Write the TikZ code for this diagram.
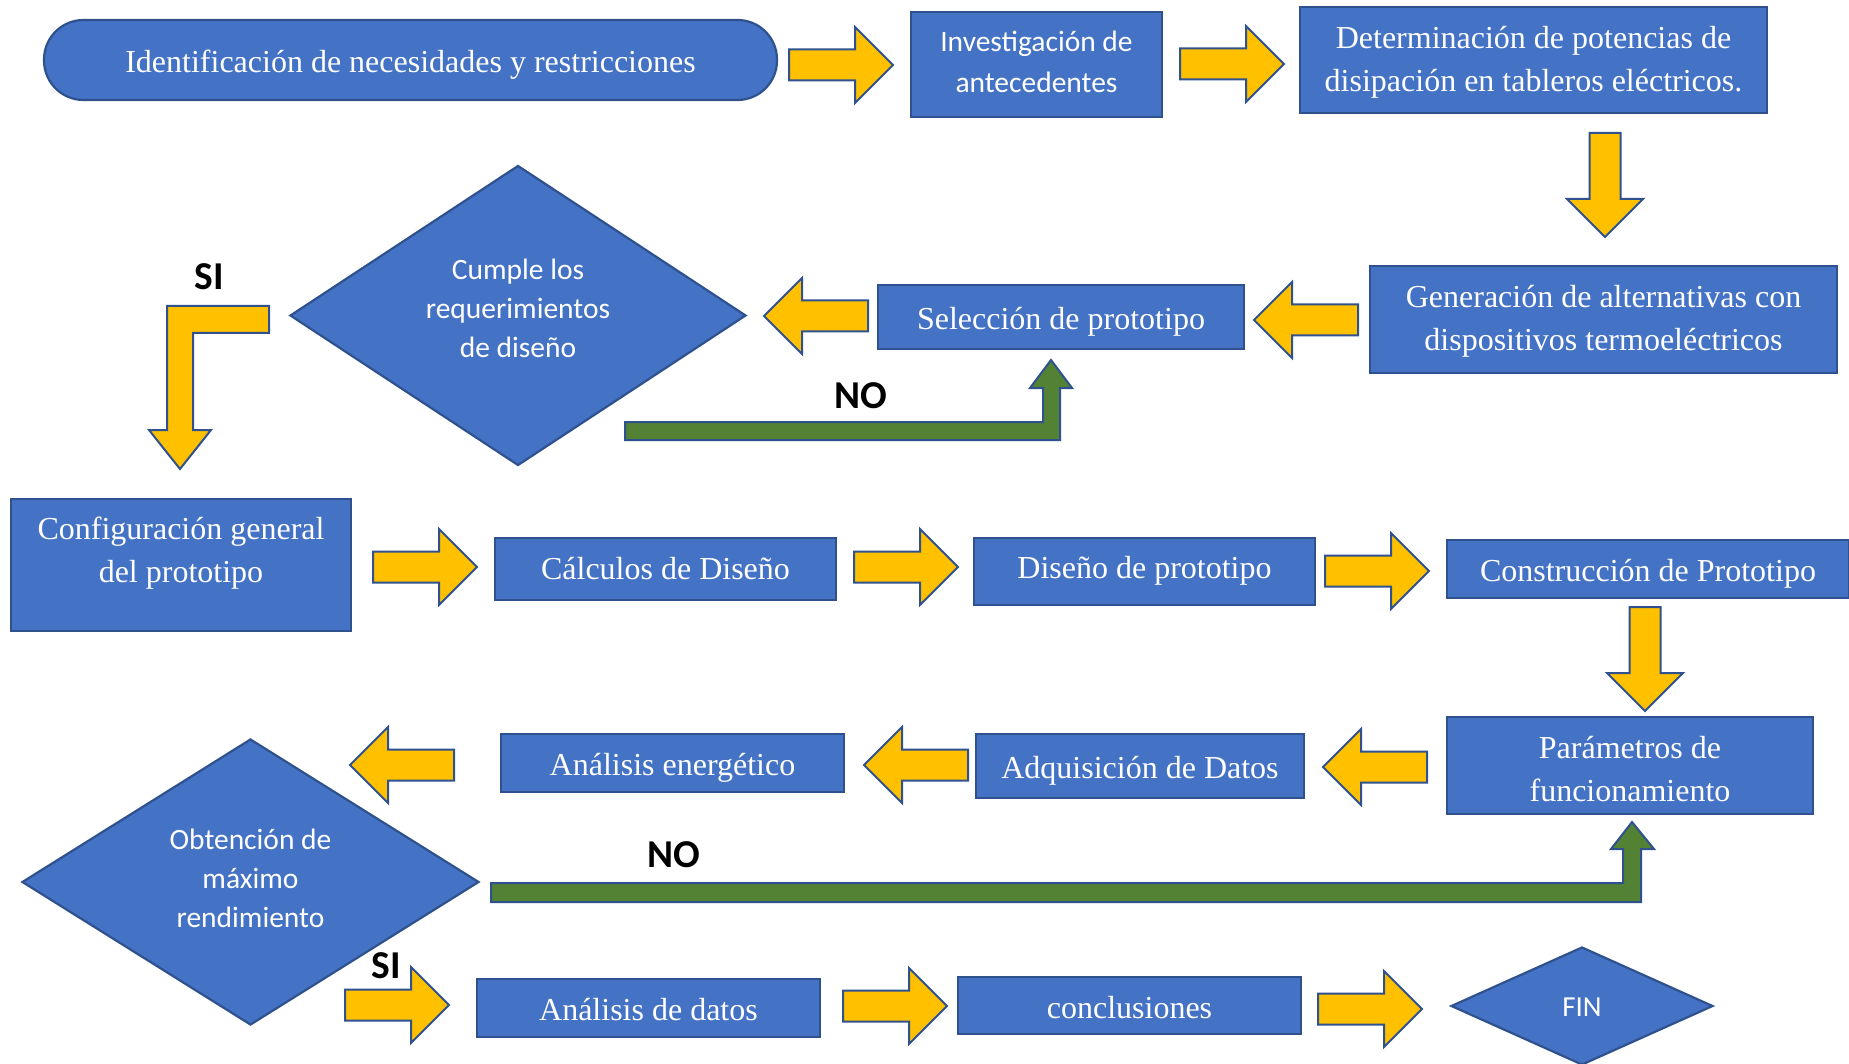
\documentclass[tikz,border=0pt]{standalone}
\usepackage{fontspec}
\setmainfont{Liberation Serif}
\newfontfamily\calib{Carlito}
\usetikzlibrary{shapes.geometric}
\definecolor{boxblue}{HTML}{4472C4}
\definecolor{edgeblue}{HTML}{2F528F}
\definecolor{arrowyellow}{HTML}{FFC000}
\definecolor{arrowgreen}{HTML}{548235}
\tikzset{
  procbox/.style={draw=edgeblue, line width=2.2pt, fill=boxblue, text=white, align=center,
    inner sep=0pt, font=\fontsize{32}{43}\selectfont},
  oneline/.style={text height=31pt, text depth=6pt},
  boxtext/.style={text=white, align=center, inner sep=0pt, font=\fontsize{32}{43}\selectfont},
  decbox/.style={diamond, draw=edgeblue, line width=2.2pt, fill=boxblue, inner sep=0pt},
  dectext/.style={text=white, align=center, font=\calib\fontsize{29.5}{39}\selectfont, inner sep=0pt},
  yarrow/.style={draw=edgeblue, line width=2pt, fill=arrowyellow, line join=miter},
  garrow/.style={draw=edgeblue, line width=2pt, fill=arrowgreen, line join=miter},
  answer/.style={font=\calib\bfseries\fontsize{39.5}{39.5}\selectfont, anchor=base, inner sep=0pt},
  barrow/.pic={\path[yarrow] (0,-15.5) -- (66,-15.5) -- (66,-38) -- (104,0) -- (66,38) -- (66,15.5) -- (0,15.5) -- cycle;}
}
\begin{document}
\begin{tikzpicture}[x=1pt, y=-1pt]
\useasboundingbox (0,0) rectangle (1849,1064);
\fill[white] (0,0) rectangle (1849,1064);

% Row 1
\node[procbox, oneline, rounded corners=39.5pt, minimum width=733pt, minimum height=80pt] (ident) at (410.5,60) {Identificación de necesidades y restricciones};
\node[procbox, minimum width=251pt, minimum height=105pt,
  label={[dectext, font=\calib\fontsize{29.5}{41}\selectfont, yshift=2.5pt]center:{Investigación de\\antecedentes}}] (inv) at (1036.5,64.5) {};
\node[procbox, minimum width=467pt, minimum height=106pt,
  label={[boxtext, yshift=-2pt]center:{Determinación de potencias de\\disipación en tableros eléctricos.}}] (det) at (1533.5,60) {};

% Row 2
\node[procbox, minimum width=467pt, minimum height=107pt,
  label={[boxtext, yshift=-2pt]center:{Generación de alternativas con\\dispositivos termoeléctricos}}] (gen) at (1603.5,319.5) {};
\node[procbox, oneline, minimum width=366pt, minimum height=64pt] (sel) at (1061,317) {Selección de prototipo};
\node[decbox, minimum width=456pt, minimum height=300pt,
  label={[dectext, yshift=7pt]center:{Cumple los\\requerimientos\\de diseño}}] (d1) at (518,315.5) {};

% Row 3
\node[procbox, minimum width=340pt, minimum height=132pt,
  label={[boxtext, yshift=12pt]center:{Configuración general\\del prototipo}}] (conf) at (181,565) {};
\node[procbox, text height=31pt, text depth=10pt, minimum width=341pt, minimum height=62pt] (calc) at (665.5,569) {Cálculos de Diseño};
\node[procbox, text height=31pt, text depth=18pt, minimum width=341pt, minimum height=67pt] (dis) at (1144.5,571.5) {Diseño de prototipo};
\node[procbox, oneline, minimum width=402pt, minimum height=58pt] (cons) at (1648,569) {Construcción de Prototipo};

% Row 4
\node[procbox, minimum width=366pt, minimum height=97pt,
  label={[boxtext, yshift=-4pt]center:{Parámetros de\\funcionamiento}}] (par) at (1630,765.5) {};
\node[procbox, oneline, minimum width=328pt, minimum height=64pt] (adq) at (1140,766) {Adquisición de Datos};
\node[procbox, oneline, minimum width=343pt, minimum height=58pt] (ene) at (672.5,763) {Análisis energético};
\node[decbox, minimum width=457pt, minimum height=286pt,
  label={[dectext, yshift=3.5pt]center:{Obtención de\\máximo\\rendimiento}}] (d2) at (250.5,882) {};

% Row 5
\node[procbox, oneline, minimum width=343pt, minimum height=58pt] (dat) at (648.5,1008) {Análisis de datos};
\node[procbox, oneline, minimum width=343pt, minimum height=57pt] (concl) at (1129.5,1005.5) {conclusiones};
\node[decbox, minimum width=262pt, minimum height=118pt,
  label={[dectext, font=\calib\fontsize{29}{39}\selectfont, text height=27pt, text depth=6pt]center:FIN}] (fin) at (1582,1006) {};

% block arrows
\pic (a1) at (789,65) {barrow};
\pic (a2) at (1180,64) {barrow};
\pic[rotate=-90] (a3) at (1605,133) {barrow};
\pic[rotate=180] (a4) at (1358,320) {barrow};
\pic[rotate=180] (a5) at (868,316) {barrow};
\pic (a6) at (373,567) {barrow};
\pic (a7) at (854,567) {barrow};
\pic (a8) at (1325,571) {barrow};
\pic[rotate=-90] (a9) at (1645,607) {barrow};
\pic[rotate=180] (a10) at (1427,767) {barrow};
\pic[rotate=180] (a11) at (968,765) {barrow};
\pic[rotate=180] (a12) at (454,765) {barrow};
\pic (a13) at (345,1005) {barrow};
\pic (a14) at (843,1006) {barrow};
\pic (a15) at (1318,1009) {barrow};

% SI bent arrow
\path[yarrow] (269,306) -- (167,306) -- (167,430) -- (149,430) -- (180,469) -- (211,430) -- (193,430) -- (193,333) -- (269,333) -- cycle;

% NO green arrows
\path[garrow] (625,422) -- (1043,422) -- (1043,388) -- (1030,388) -- (1051,360) -- (1072,388) -- (1060,388) -- (1060,440) -- (625,440) -- cycle;
\path[garrow] (491,883) -- (1623,883) -- (1623,849) -- (1611,849) -- (1632,822) -- (1654,849) -- (1641,849) -- (1641,902) -- (491,902) -- cycle;

% labels
\node[answer] (si1) at (209,290) {SI};
\node[answer] (no1) at (861,408) {NO};
\node[answer] (no2) at (674,867) {NO};
\node[answer] (si2) at (386.5,978) {SI};
\end{tikzpicture}
\end{document}
